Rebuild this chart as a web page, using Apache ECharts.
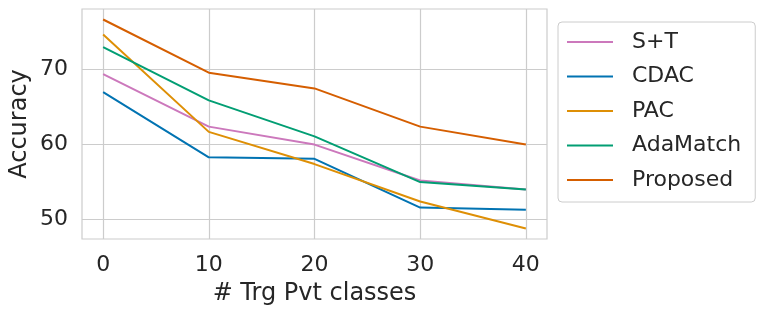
<!DOCTYPE html>
<html>
<head>
<meta charset="utf-8">
<script src="https://cdn.jsdelivr.net/npm/echarts@6/dist/echarts.min.js"></script>
<style>html,body{margin:0;padding:0;background:#fff}#c{width:764px;height:316px}</style>
</head>
<body>
<div id="c"></div>
<script>
const xValues = [0, 10, 20, 30, 40];
const xTicks = [0, 10, 20, 30, 40];
const yTicks = [50, 60, 70];
const seriesNames = ['S+T', 'CDAC', 'PAC', 'AdaMatch', 'Proposed'];
const sT = [69.4, 62.4, 60.0, 55.2, 54.0];
const cdac = [67.0, 58.3, 58.1, 51.6, 51.3];
const pac = [74.7, 61.7, 57.4, 52.4, 48.8];
const adaMatch = [73.0, 65.9, 61.1, 55.0, 54.0];
const proposed = [76.7, 69.6, 67.5, 62.4, 60.0];
const colors = ['#cc78bc', '#0173b2', '#de8f05', '#029e73', '#d55e00'];
const allData = [sT, cdac, pac, adaMatch, proposed];

const font = 'DejaVu Sans';
const txt = '#262626';
const chart = echarts.init(document.getElementById('c'), null, {renderer: 'canvas'});
chart.setOption({
  animation: false,
  backgroundColor: '#fff',
  grid: {left: 82, right: 217, top: 9, bottom: 77, show: true, borderColor: '#cccccc', borderWidth: 1.2, containLabel: false, outerBoundsMode: 'none'},
  xAxis: {
    type: 'value', min: -2, max: 42,
    name: '# Trg Pvt classes', nameLocation: 'middle', nameGap: 43,
    nameTextStyle: {fontFamily: font, fontSize: 24, color: txt},
    axisLine: {show: false},
    axisTick: {show: false, customValues: xTicks},
    axisLabel: {customValues: xTicks, fontFamily: font, fontSize: 22, color: txt, margin: 15},
    splitLine: {show: true, lineStyle: {color: '#cccccc', width: 1.2}}
  },
  yAxis: {
    type: 'value', min: 47.4, max: 78.1,
    name: 'Accuracy', nameLocation: 'middle', nameGap: 50, nameMoveOverlap: false,
    nameTextStyle: {fontFamily: font, fontSize: 24, color: txt},
    axisLine: {show: false},
    axisTick: {show: false, customValues: yTicks},
    axisLabel: {customValues: yTicks, fontFamily: font, fontSize: 22, color: txt, margin: 14},
    splitLine: {show: true, lineStyle: {color: '#cccccc', width: 1.2}}
  },
  legend: {
    orient: 'vertical', left: 558, top: 22,
    padding: [8, 14, 10, 9],
    backgroundColor: '#fff', borderColor: '#cccccc', borderWidth: 1, borderRadius: 4,
    icon: 'rect',
    itemWidth: 46, itemHeight: 2.2, itemGap: 10.5,
    textStyle: {fontFamily: font, fontSize: 22, color: txt, lineHeight: 24, padding: [0, 0, 0, 14]},
    data: seriesNames
  },
  series: seriesNames.map((n, i) => ({
    name: n, type: 'line', symbol: 'none', showSymbol: false,
    data: xValues.map((x, j) => [x, allData[i][j]]),
    lineStyle: {color: colors[i], width: 2},
    itemStyle: {color: colors[i]}
  }))
});
</script>
</body>
</html>
